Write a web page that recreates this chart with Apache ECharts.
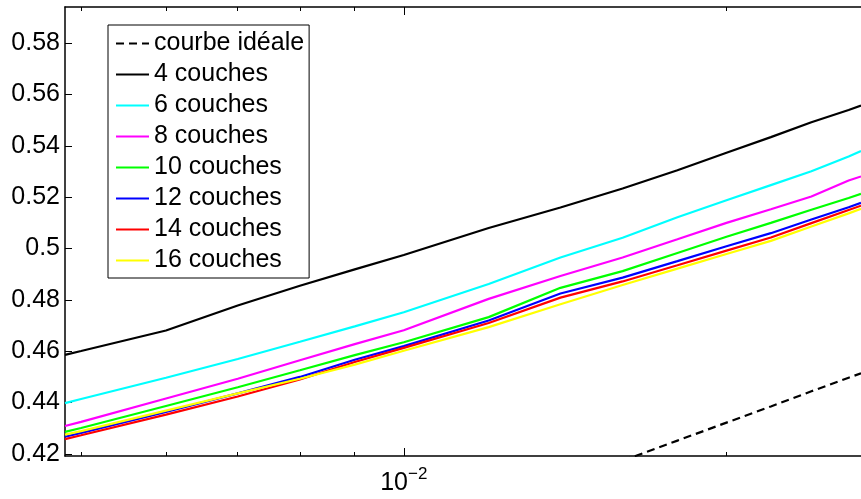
<!DOCTYPE html>
<html><head><meta charset="utf-8">
<script src="https://cdn.jsdelivr.net/npm/echarts@6/dist/echarts.min.js"></script>
<style>html,body{margin:0;padding:0;background:#fff}#c{width:861px;height:499px}</style>
</head><body><div id="c"></div>
<script>
// ---- data ----
const xValues = [0.00483, 0.005, 0.006, 0.007, 0.008, 0.009, 0.010, 0.012, 0.014, 0.016, 0.018, 0.020, 0.022, 0.024, 0.026, 0.0267];
const idealValues = [null, null, null, null, null, null, null, null, null, 0.4174, 0.4252, 0.4322, 0.4385, 0.4444, 0.4497, 0.4514];
const couches4  = [0.4586, 0.4601, 0.4681, 0.4778, 0.4855, 0.4919, 0.4975, 0.5080, 0.5160, 0.5234, 0.5305, 0.5373, 0.5434, 0.5492, 0.5540, 0.5557];
const couches6  = [0.4398, 0.4414, 0.4497, 0.4570, 0.4637, 0.4697, 0.4752, 0.4862, 0.4965, 0.5042, 0.5122, 0.5188, 0.5247, 0.5301, 0.5359, 0.5380];
const couches8  = [0.4309, 0.4325, 0.4416, 0.4493, 0.4565, 0.4628, 0.4682, 0.4804, 0.4893, 0.4965, 0.5036, 0.5100, 0.5153, 0.5203, 0.5265, 0.5281];
const couches10 = [0.4286, 0.4301, 0.4387, 0.4460, 0.4526, 0.4585, 0.4635, 0.4733, 0.4847, 0.4912, 0.4983, 0.5046, 0.5100, 0.5151, 0.5197, 0.5213];
const couches12 = [0.4267, 0.4282, 0.4364, 0.4436, 0.4500, 0.4567, 0.4620, 0.4720, 0.4825, 0.4887, 0.4951, 0.5009, 0.5060, 0.5113, 0.5161, 0.5178];
const couches14 = [0.4258, 0.4273, 0.4353, 0.4424, 0.4490, 0.4558, 0.4613, 0.4710, 0.4809, 0.4872, 0.4935, 0.4992, 0.5043, 0.5099, 0.5150, 0.5167];
const couches16 = [0.4275, 0.4289, 0.4369, 0.4436, 0.4493, 0.4548, 0.4602, 0.4694, 0.4783, 0.4858, 0.4922, 0.4979, 0.5030, 0.5086, 0.5137, 0.5155];
const seriesNames = ['courbe idéale', '4 couches', '6 couches', '8 couches', '10 couches', '12 couches', '14 couches', '16 couches'];
const yTicks = [0.42, 0.44, 0.46, 0.48, 0.50, 0.52, 0.54, 0.56, 0.58];
const xMajorTicks = [0.01];
const xMinorTicks = [0.005, 0.006, 0.007, 0.008, 0.009, 0.02];

// ---- chart ----
const FONT = "'Liberation Sans', Arial, Helvetica, sans-serif";
const X_MIN = 0.00483, X_MAX = 0.0267, Y_MIN = 0.4192, Y_MAX = 0.5941;
const colors = ['#000000', '#000000', '#00ffff', '#ff00ff', '#00ff00', '#0000ff', '#ff0000', '#ffff00'];
const allValues = [idealValues, couches4, couches6, couches8, couches10, couches12, couches14, couches16];

function xAxisDef(position, ticks, len, showLine, showLabel) {
  return {
    type: 'log', position: position, min: X_MIN, max: X_MAX,
    axisLine: { show: showLine, onZero: false, lineStyle: { color: '#000', width: 1.5 } },
    axisTick: { show: true, inside: true, length: len, customValues: ticks, lineStyle: { color: '#000', width: 1 } },
    axisLabel: showLabel ? {
      customValues: ticks, margin: 10, color: '#000', fontFamily: FONT,
      formatter: function (v) {
        const e = Math.round(Math.log10(v));
        return '{b|10}{s|' + (e < 0 ? '\u2212' : '') + Math.abs(e) + '}';
      },
      rich: {
        b: { fontSize: 25, fontFamily: FONT, color: '#000', verticalAlign: 'bottom', lineHeight: 30 },
        s: { fontSize: 17, fontFamily: FONT, color: '#000', verticalAlign: 'top', lineHeight: 17 }
      }
    } : { show: false },
    splitLine: { show: false }, minorTick: { show: false }
  };
}

const chart = echarts.init(document.getElementById('c'), null, { renderer: 'canvas' });
chart.setOption({
  animation: false,
  backgroundColor: '#fff',
  grid: { left: 65, right: 0, top: 7, bottom: 43, containLabel: false },
  legend: {
    orient: 'vertical', left: 108, top: 25, padding: [3, 5, 2, 7], itemGap: 0,
    itemWidth: 33, itemHeight: 31, borderColor: '#000', borderWidth: 1, backgroundColor: '#fff',
    itemStyle: { opacity: 0 },
    textStyle: { fontSize: 25, color: '#000', fontFamily: FONT, lineHeight: 31 },
    data: seriesNames.map(function (n) { return { name: n, itemStyle: { opacity: 0 } }; })
  },
  xAxis: [
    xAxisDef('bottom', xMajorTicks, 8, true, true),
    xAxisDef('bottom', xMinorTicks, 4, false, false),
    xAxisDef('top', xMajorTicks, 8, true, false),
    xAxisDef('top', xMinorTicks, 4, false, false)
  ],
  yAxis: {
    type: 'value', min: Y_MIN, max: Y_MAX,
    axisLine: { show: true, onZero: false, lineStyle: { color: '#000', width: 1.5 } },
    axisTick: { show: true, inside: true, length: 7, customValues: yTicks, lineStyle: { color: '#000', width: 1 } },
    axisLabel: {
      customValues: yTicks, margin: 5, fontSize: 25, color: '#000', fontFamily: FONT,
      formatter: function (v) { return String(+v.toFixed(2)); }
    },
    splitLine: { show: false }
  },
  series: allValues.map(function (vals, i) {
    return {
      name: seriesNames[i], type: 'line', xAxisIndex: 0, yAxisIndex: 0,
      data: xValues.map(function (x, j) { return [x, vals[j]]; }),
      symbol: 'none', showSymbol: false, clip: true, connectNulls: false,
      lineStyle: { color: colors[i], width: 2.2, type: i === 0 ? [8, 5] : 'solid' },
      itemStyle: { color: colors[i] },
      emphasis: { disabled: true }
    };
  })
});
</script>
</body></html>
